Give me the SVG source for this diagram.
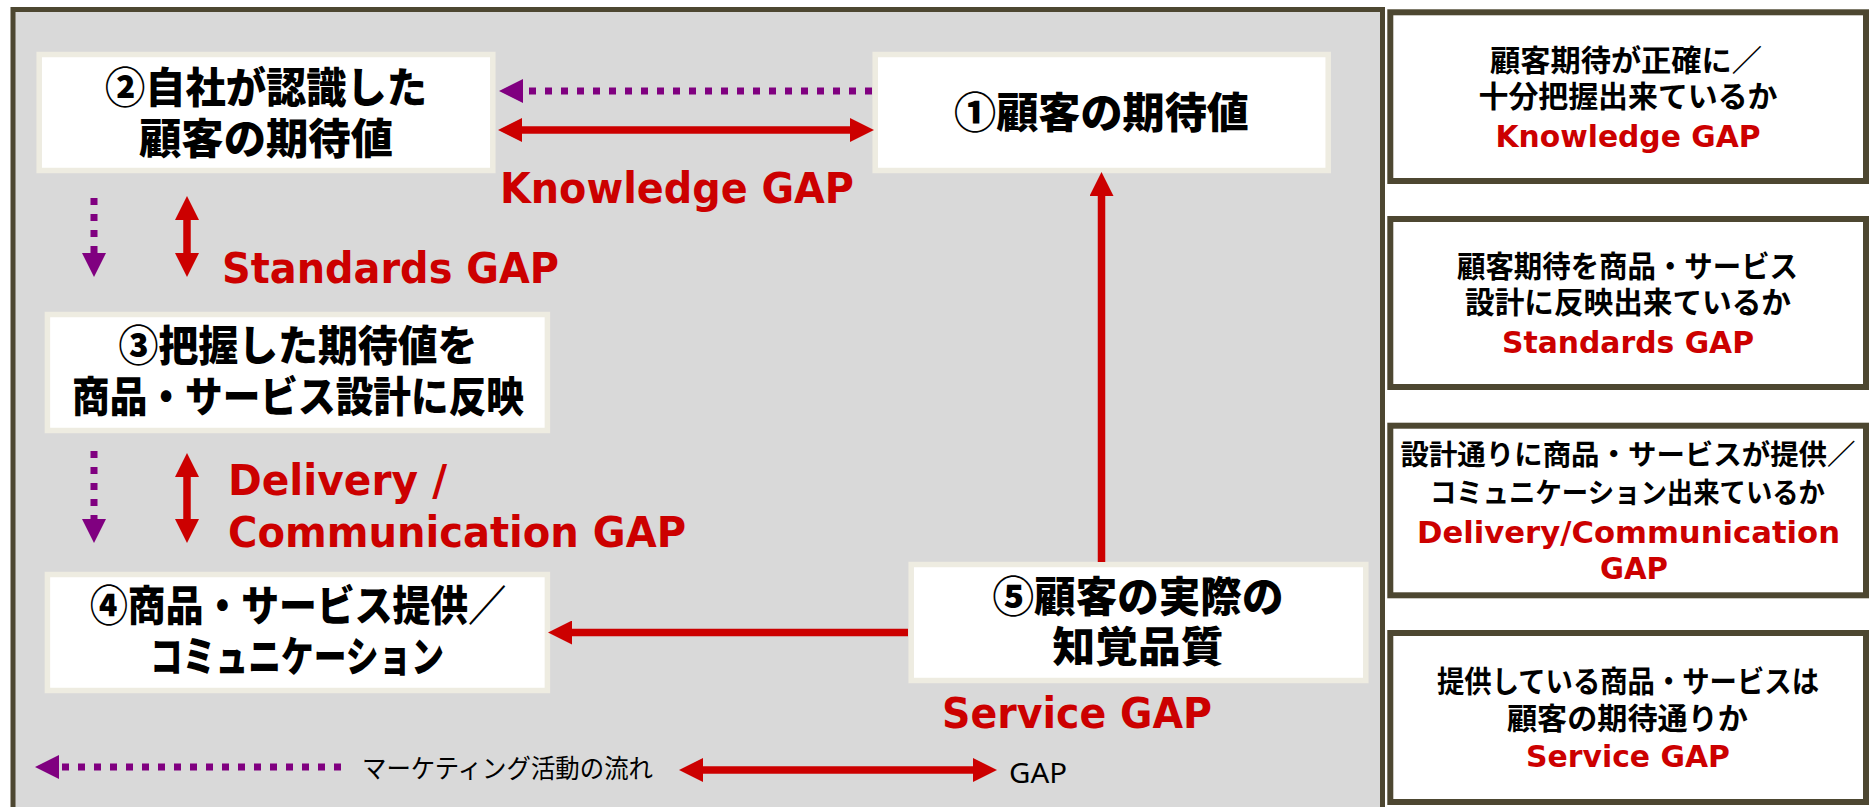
<svg xmlns="http://www.w3.org/2000/svg" width="1870" height="807" viewBox="0 0 1870 807">
<style>
.frame{fill:#d9d9d9;stroke:#4d4731;stroke-width:5}
.node{fill:#ffffff;stroke:#eeece1;stroke-width:5.5}
.side{fill:#ffffff;stroke:#4d4731;stroke-width:6}
.jp{font-family:"Noto Sans CJK JP","Noto Sans",sans-serif;font-weight:900;font-size:42px;fill:#000;text-anchor:middle}
.jps{font-family:"Noto Sans CJK JP","Noto Sans",sans-serif;font-weight:700;font-size:30px;fill:#000;text-anchor:middle}
.jpn{font-family:"Noto Sans CJK JP","Noto Sans",sans-serif;font-weight:700;font-size:28px;fill:#000;text-anchor:middle}
.gap{font-family:"DejaVu Sans","Noto Sans",sans-serif;font-weight:700;font-size:42px;fill:#cc0000}
.gaps{font-family:"DejaVu Sans","Noto Sans",sans-serif;font-weight:700;font-size:31px;fill:#cc0000;text-anchor:middle}
.leg{font-family:"Noto Sans CJK JP","Noto Sans",sans-serif;font-weight:400;font-size:26px;fill:#000}
.legl{font-family:"Noto Sans",sans-serif;font-weight:400;font-size:28px;fill:#000}
.red{stroke:#cc0000;stroke-width:7.5;fill:none}
.pur{stroke:#800080;stroke-width:7;stroke-dasharray:7 9;fill:none}
</style>
<defs>
<marker id="rh" viewBox="0 0 24 24" markerWidth="24" markerHeight="24" markerUnits="userSpaceOnUse" refX="1" refY="12" orient="auto-start-reverse"><path d="M0,0 L24,12 L0,24 Z" fill="#cc0000"/></marker>
<marker id="ph" viewBox="0 0 24 24" markerWidth="24" markerHeight="24" markerUnits="userSpaceOnUse" refX="1" refY="12" orient="auto-start-reverse"><path d="M0,0 L24,12 L0,24 Z" fill="#800080"/></marker>
</defs>
<rect class="frame" x="13" y="9.5" width="1369.5" height="815"/>

<g id="node2">
<rect class="node" x="39.2" y="54.5" width="453.6" height="116"/>
<text class="jp" x="266" y="103" textLength="322" lengthAdjust="spacingAndGlyphs">②自社が認識した</text>
<text class="jp" x="266" y="154" textLength="254" lengthAdjust="spacingAndGlyphs">顧客の期待値</text>
</g>
<g id="node1">
<rect class="node" x="875.2" y="54.5" width="453" height="116"/>
<text class="jp" x="1101.5" y="128" textLength="295" lengthAdjust="spacingAndGlyphs">①顧客の期待値</text>
</g>
<g id="node3">
<rect class="node" x="47.4" y="314.5" width="500" height="116"/>
<text class="jp" x="298" y="361" textLength="359" lengthAdjust="spacingAndGlyphs">③把握した期待値を</text>
<text class="jp" x="298" y="412" textLength="452" lengthAdjust="spacingAndGlyphs">商品・サービス設計に反映</text>
</g>
<g id="node4">
<rect class="node" x="47.4" y="574.5" width="500" height="116"/>
<text class="jp" x="298" y="621" textLength="416" lengthAdjust="spacingAndGlyphs">④商品・サービス提供／</text>
<text class="jp" x="297" y="672" textLength="294" lengthAdjust="spacingAndGlyphs">コミュニケーション</text>
</g>
<g id="node5">
<rect class="node" x="911.2" y="564.5" width="454.6" height="116"/>
<text class="jp" x="1138" y="612" textLength="291" lengthAdjust="spacingAndGlyphs">⑤顧客の実際の</text>
<text class="jp" x="1138" y="662" textLength="171" lengthAdjust="spacingAndGlyphs">知覚品質</text>
</g>

<g id="labels">
<text class="gap" x="500" y="203" textLength="354" lengthAdjust="spacingAndGlyphs">Knowledge GAP</text>
<text class="gap" x="222" y="283" textLength="337" lengthAdjust="spacingAndGlyphs">Standards GAP</text>
<text class="gap" x="228" y="495" textLength="219" lengthAdjust="spacingAndGlyphs">Delivery /</text>
<text class="gap" x="228" y="546.5" textLength="458" lengthAdjust="spacingAndGlyphs">Communication GAP</text>
<text class="gap" x="942" y="728" textLength="270" lengthAdjust="spacingAndGlyphs">Service GAP</text>
</g>

<g id="connectors">
<line class="pur" x1="872" y1="91" x2="522" y2="91" marker-end="url(#ph)"/>
<line class="red" x1="521" y1="130" x2="851" y2="130" marker-start="url(#rh)" marker-end="url(#rh)"/>
<line class="pur" x1="94" y1="198" x2="94" y2="254" marker-end="url(#ph)"/>
<line class="red" x1="187" y1="219" x2="187" y2="254" marker-start="url(#rh)" marker-end="url(#rh)"/>
<line class="pur" x1="94" y1="451" x2="94" y2="520" marker-end="url(#ph)"/>
<line class="red" x1="187" y1="476" x2="187" y2="520" marker-start="url(#rh)" marker-end="url(#rh)"/>
<line class="red" x1="908" y1="632.5" x2="571" y2="632.5" marker-end="url(#rh)"/>
<line class="red" x1="1101.5" y1="562" x2="1101.5" y2="195" marker-end="url(#rh)"/>
</g>

<g id="legend">
<line class="pur" x1="341" y1="767" x2="58" y2="767" marker-end="url(#ph)"/>
<text class="leg" x="362" y="778" textLength="291" lengthAdjust="spacingAndGlyphs">マーケティング活動の流れ</text>
<line class="red" x1="702" y1="770" x2="974" y2="770" marker-start="url(#rh)" marker-end="url(#rh)"/>
<text class="legl" x="1009" y="783" textLength="58" lengthAdjust="spacingAndGlyphs">GAP</text>
</g>

<g id="box-knowledge">
<rect class="side" x="1390.3" y="12.3" width="475.7" height="168.7"/>
<text class="jps" x="1626" y="71" textLength="272" lengthAdjust="spacingAndGlyphs">顧客期待が正確に／</text>
<text class="jps" x="1628" y="107" textLength="299" lengthAdjust="spacingAndGlyphs">十分把握出来ているか</text>
<text class="gaps" x="1628" y="146.5" textLength="265" lengthAdjust="spacingAndGlyphs">Knowledge GAP</text>
</g>
<g id="box-standards">
<rect class="side" x="1390.3" y="219" width="475.7" height="168"/>
<text class="jps" x="1627.5" y="277" textLength="341" lengthAdjust="spacingAndGlyphs">顧客期待を商品・サービス</text>
<text class="jps" x="1628" y="313" textLength="326" lengthAdjust="spacingAndGlyphs">設計に反映出来ているか</text>
<text class="gaps" x="1628" y="352.5" textLength="252" lengthAdjust="spacingAndGlyphs">Standards GAP</text>
</g>
<g id="box-delivery">
<rect class="side" x="1390.3" y="425.7" width="475.7" height="169.6"/>
<text class="jpn" x="1628" y="465" textLength="455" lengthAdjust="spacingAndGlyphs">設計通りに商品・サービスが提供／</text>
<text class="jpn" x="1627.5" y="503" textLength="395" lengthAdjust="spacingAndGlyphs">コミュニケーション出来ているか</text>
<text class="gaps" x="1628.5" y="542.5" textLength="423" lengthAdjust="spacingAndGlyphs">Delivery/Communication</text>
<text class="gaps" x="1634" y="579.3" textLength="68" lengthAdjust="spacingAndGlyphs">GAP</text>
</g>
<g id="box-service">
<rect class="side" x="1390.3" y="633" width="475.7" height="169"/>
<text class="jps" x="1628" y="692" textLength="382" lengthAdjust="spacingAndGlyphs">提供している商品・サービスは</text>
<text class="jps" x="1627.5" y="729" textLength="241" lengthAdjust="spacingAndGlyphs">顧客の期待通りか</text>
<text class="gaps" x="1628" y="766.5" textLength="204" lengthAdjust="spacingAndGlyphs">Service GAP</text>
</g>
</svg>
